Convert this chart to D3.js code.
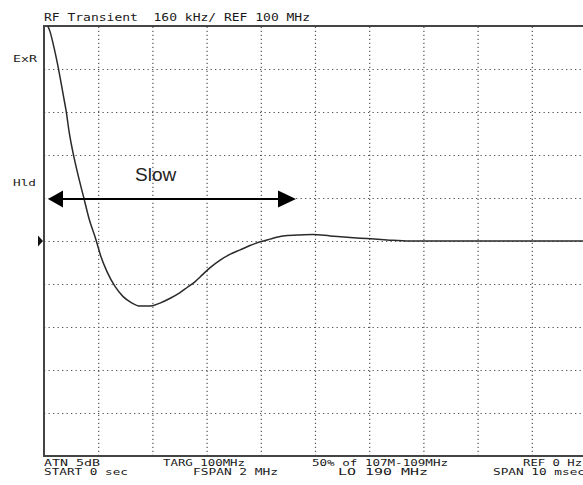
<!DOCTYPE html>
<html>
<head>
<meta charset="utf-8">
<script src="https://cdn.jsdelivr.net/npm/d3@7"></script>
<style>
  html, body { margin: 0; padding: 0; background: #fff; }
  svg { display: block; }
</style>
</head>
<body>
<svg id="chart" width="583" height="485"></svg>
<script>
// Time (msec) across a 10 msec span, frequency offset (kHz) from the 100 MHz reference
const timeMs = [0.06, 0.11, 0.18, 0.24, 0.30, 0.36, 0.41, 0.46, 0.54, 0.63, 0.73, 0.83, 0.96,
  1.05, 1.16, 1.31, 1.46, 1.61, 1.77, 1.96, 2.14, 2.32, 2.51, 2.64, 2.79, 2.88,
  3.06, 3.25, 3.43, 3.62, 3.80, 3.99, 4.17, 4.41, 4.67, 4.96, 5.28, 5.65, 5.96,
  6.33, 6.75, 10.0];
const offsetKHz = [804, 780, 724, 668, 605, 538, 482, 411, 324, 244, 164, 84, 4,
  -58, -113, -169, -207, -229, -242, -242, -231, -214, -192, -173, -151, -134,
  -100, -71, -50, -33, -17, -3, 7, 19, 22, 24, 19, 13, 9,
  4, 0, 0];
const xTicks = [1, 2, 3, 4, 5, 6, 7, 8, 9];
const yTicks = [-640, -480, -320, -160, 0, 160, 320, 480, 640];
const titleText = "RF Transient  160 kHz/ REF 100 MHz";
const leftLabels = ["ExR", "Hld"];
const bottomRow1 = ["ATN 5dB", "TARG 100MHz", "50% of 107M-109MHz", "REF 0 Hz"];
const bottomRow2 = ["START 0 sec", "FSPAN 2 MHz", "LO 190 MHz", "SPAN 10 msec"];
const annotation = "Slow";

const svg = d3.select("#chart");
const L = 44, R = 586, T = 26, B = 456;
const x = d3.scaleLinear().domain([0, 10]).range([L, R]);
const y = d3.scaleLinear().domain([-800, 800]).range([B, T]);

// Grid via axes
const gx = svg.append("g").attr("transform", `translate(0,${B})`)
  .call(d3.axisBottom(x).tickValues(xTicks).tickSize(-(B - T)).tickFormat(""));
gx.select(".domain").remove();
gx.selectAll("line").attr("stroke", "#555").attr("stroke-width", 1.2)
  .attr("stroke-dasharray", "1.3,2.7");

const gy = svg.append("g").attr("transform", `translate(${L},0)`)
  .call(d3.axisLeft(y).tickValues(yTicks).tickSize(-(R - L)).tickFormat(""));
gy.select(".domain").remove();
gy.selectAll("line").attr("stroke", "#555").attr("stroke-width", 1.2)
  .attr("stroke-dasharray", "1.3,3.2");

// Frame
svg.append("line").attr("x1", L).attr("x2", 583).attr("y1", T).attr("y2", T)
  .attr("stroke", "#444").attr("stroke-width", 2);
svg.append("line").attr("x1", L).attr("x2", 583).attr("y1", B).attr("y2", B)
  .attr("stroke", "#444").attr("stroke-width", 2);
svg.append("line").attr("x1", L).attr("x2", L).attr("y1", T - 1).attr("y2", B + 1)
  .attr("stroke", "#444").attr("stroke-width", 2);

// Trace
svg.append("clipPath").attr("id", "plotclip").append("rect")
  .attr("x", L).attr("y", T).attr("width", R - L).attr("height", B - T);
const pts = timeMs.map((t, i) => [t, offsetKHz[i]]);
svg.append("path").datum(pts)
  .attr("clip-path", "url(#plotclip)")
  .attr("fill", "none").attr("stroke", "#2a2a2a").attr("stroke-width", 1.5)
  .attr("d", d3.line().x(d => x(d[0])).y(d => y(d[1])).curve(d3.curveMonotoneX));

// Reference marker triangle
const my = y(0);
svg.append("path").attr("d", `M38,${my - 5.5}L43,${my}L38,${my + 5.5}Z`).attr("fill", "#111");

// Instrument text
const mono = "'DejaVu Sans Mono', 'Liberation Mono', monospace";
svg.append("text").attr("x", 44).attr("y", 21).attr("font-family", mono)
  .attr("font-size", 10).attr("fill", "#1a1a1a")
  .attr("textLength", 266).attr("lengthAdjust", "spacingAndGlyphs")
  .attr("xml:space", "preserve").style("white-space", "pre").text(titleText);

svg.append("text").attr("x", 13).attr("y", 62).attr("font-family", mono)
  .attr("font-size", 9.5).attr("fill", "#222")
  .attr("textLength", 24).attr("lengthAdjust", "spacingAndGlyphs").text(leftLabels[0]);
svg.append("text").attr("x", 13).attr("y", 186).attr("font-family", mono)
  .attr("font-size", 9.5).attr("fill", "#222")
  .attr("textLength", 23).attr("lengthAdjust", "spacingAndGlyphs").text(leftLabels[1]);

const row1X = [44, 163, 312, 523], row1W = [56, 82, 136, 59];
const row2X = [44, 193, 338, 493], row2W = [84, 85, 90, 92];
bottomRow1.forEach((s, i) => {
  svg.append("text").attr("x", row1X[i]).attr("y", 465.5).attr("font-family", mono)
    .attr("font-size", 8).attr("fill", "#1a1a1a")
    .attr("textLength", row1W[i]).attr("lengthAdjust", "spacingAndGlyphs").text(s);
});
bottomRow2.forEach((s, i) => {
  svg.append("text").attr("x", row2X[i]).attr("y", 475).attr("font-family", mono)
    .attr("font-size", 8).attr("fill", "#1a1a1a")
    .attr("textLength", row2W[i]).attr("lengthAdjust", "spacingAndGlyphs").text(s);
});

// "Slow" annotation with double-headed arrow
const ay = 199;
svg.append("line").attr("x1", 60).attr("x2", 282).attr("y1", ay).attr("y2", ay)
  .attr("stroke", "#000").attr("stroke-width", 2.2);
svg.append("path").attr("d", `M48,${ay}L63,${ay - 8.5}L63,${ay + 8.5}Z`).attr("fill", "#000");
svg.append("path").attr("d", `M296,${ay}L278,${ay - 8.5}L278,${ay + 8.5}Z`).attr("fill", "#000");
svg.append("text").attr("x", 135).attr("y", 181)
  .attr("font-family", "'Liberation Sans', Arial, sans-serif")
  .attr("font-size", 19).attr("fill", "#222").text(annotation);
</script>
</body>
</html>
